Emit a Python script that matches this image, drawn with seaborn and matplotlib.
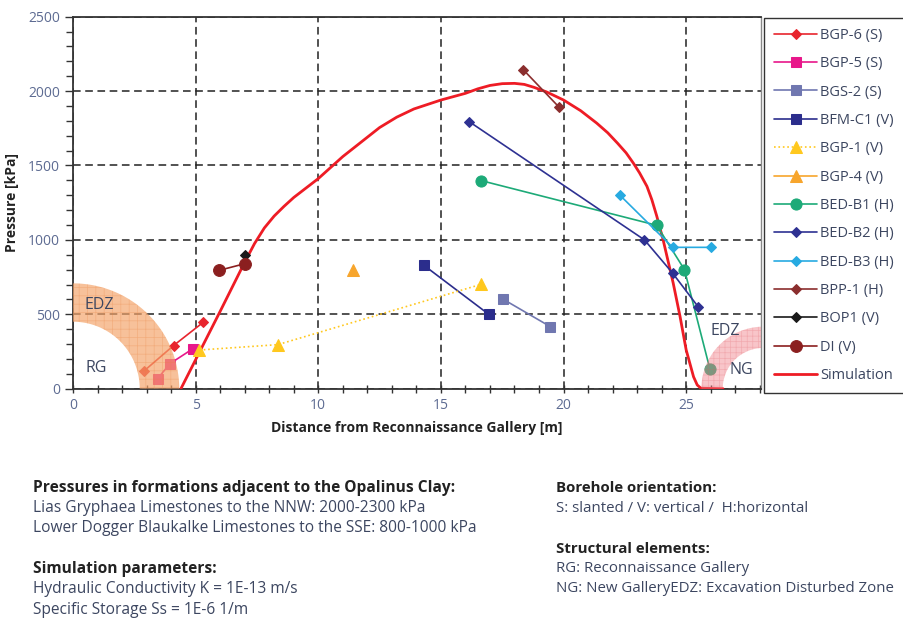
import numpy as np
import matplotlib
matplotlib.use("Agg")
import matplotlib.pyplot as plt
from matplotlib.patches import Polygon
import seaborn as sns

# Measured borehole pressures [distance m, pressure kPa]
bgp6_x, bgp6_y = [2.9, 4.1, 5.3], [120, 290, 445]
bgp5_x, bgp5_y = [3.45, 3.95, 4.9], [68, 168, 270]
bgs2_x, bgs2_y = [17.55, 19.45], [600, 418]
bfmc1_x, bfmc1_y = [14.3, 16.95], [830, 500]
bgp1_x, bgp1_y = [5.15, 8.35, 16.65], [260, 296, 702]
bgp4_x, bgp4_y = [11.4], [795]
bedb1_x, bedb1_y = [16.65, 23.8, 24.93, 25.97], [1398, 1098, 800, 130]
bedb2_x, bedb2_y = [16.15, 23.3, 24.45, 25.5], [1795, 1000, 776, 548]
bedb3_x, bedb3_y = [22.3, 24.45, 26.0], [1300, 950, 950]
bpp1_x, bpp1_y = [18.35, 19.8], [2145, 1895]
bop1_x, bop1_y = [7.0], [900]
di_x, di_y = [5.95, 7.0], [795, 840]

# Simulated pressure profile
sim_x = [4.4, 5.0, 6.0, 7.0, 7.4, 7.8, 8.2, 8.6, 9.0, 10.0, 11.0, 12.0,
         12.5, 13.2, 13.9, 15.0, 16.0, 16.5, 17.0, 17.5, 18.0, 18.4, 18.8,
         19.3, 20.0, 20.7, 21.35, 21.8, 22.2, 22.55, 22.85, 23.1, 23.4,
         23.6, 23.8, 24.06, 24.47, 24.75, 25.0, 25.3, 25.45, 25.6, 26.5]
sim_y = [0, 195, 520, 850, 975, 1080, 1160, 1225, 1285, 1412, 1560, 1690,
         1755, 1825, 1880, 1940, 1985, 2015, 2038, 2050, 2052, 2045, 2025,
         1995, 1940, 1868, 1785, 1720, 1650, 1585, 1515, 1450, 1360, 1270,
         1160, 1000, 710, 485, 260, 80, 25, 3, 0]

series = [
    ("BGP-6 (S)", bgp6_x, bgp6_y, "#e8252e", "D", 5.5, "-"),
    ("BGP-5 (S)", bgp5_x, bgp5_y, "#e8178a", "s", 7.5, "-"),
    ("BGS-2 (S)", bgs2_x, bgs2_y, "#7077b0", "s", 7.5, "-"),
    ("BFM-C1 (V)", bfmc1_x, bfmc1_y, "#2b2d8c", "s", 7.5, "-"),
    ("BGP-1 (V)", bgp1_x, bgp1_y, "#ffc81e", "^", 8, ":"),
    ("BGP-4 (V)", bgp4_x, bgp4_y, "#f7a52c", "^", 8, "-"),
    ("BED-B1 (H)", bedb1_x, bedb1_y, "#1daa78", "o", 8, "-"),
    ("BED-B2 (H)", bedb2_x, bedb2_y, "#2e3192", "D", 5.5, "-"),
    ("BED-B3 (H)", bedb3_x, bedb3_y, "#27aae1", "D", 5.5, "-"),
    ("BPP-1 (H)", bpp1_x, bpp1_y, "#8b2e2e", "D", 5.5, "-"),
    ("BOP1 (V)", bop1_x, bop1_y, "#1a1a1a", "D", 5.5, "-"),
    ("DI (V)", di_x, di_y, "#8b1f1f", "o", 8.5, "-"),
]

sns.set_theme(style="white")
plt.rcParams["font.family"] = ["Open Sans", "DejaVu Sans"]

fig = plt.figure(figsize=(9.04, 6.21), dpi=100)
ax = fig.add_axes([73 / 904, 1 - 388.7 / 621, 688 / 904, 372 / 621])

for name, xs, ys, col, mk, ms, ls in series:
    sns.lineplot(x=xs, y=ys, ax=ax, color=col, marker=mk, markersize=ms,
                 markeredgecolor=col, linewidth=1.2, linestyle=ls,
                 label=name, estimator=None, sort=False, zorder=4)

sns.lineplot(x=sim_x, y=sim_y, ax=ax, color="#ee1c25", linewidth=2.0,
             label="Simulation", estimator=None, sort=False, zorder=3)

# Excavation disturbed zones around the two galleries
def ring(cx, rx_in, rx_out, ry_in, ry_out, t0, t1):
    t = np.linspace(t0, t1, 120)
    outer = np.column_stack([cx + rx_out * np.cos(t), ry_out * np.sin(t)])
    inner = np.column_stack([cx + rx_in * np.cos(t[::-1]), ry_in * np.sin(t[::-1])])
    return np.vstack([outer, inner])

plt.rcParams["hatch.linewidth"] = 0.5
rg = ring(0.0, 2.72, 4.33, 450, 708, 0, np.pi / 2)
ax.add_patch(Polygon(rg, closed=True, facecolor="#f4a46a", edgecolor="none",
                     alpha=0.68, zorder=5))
ax.add_patch(Polygon(rg, closed=True, facecolor="none", edgecolor="#e8803c",
                     hatch="++", linewidth=0, alpha=0.3, zorder=5))
ng = ring(28.15, 1.66, 2.53, 274, 417, np.pi / 2, np.pi)
ax.add_patch(Polygon(ng, closed=True, facecolor="#f08088", edgecolor="none",
                     alpha=0.45, zorder=5))
ax.add_patch(Polygon(ng, closed=True, facecolor="none", edgecolor="#e05a64",
                     hatch="+++", linewidth=0, alpha=0.25, zorder=5))

zone_kw = dict(fontsize=11.5, color="#3c4660", ha="center", va="center", zorder=6)
ax.text(1.06, 563, "EDZ", **zone_kw)
ax.text(0.95, 141, "RG", **zone_kw)
ax.text(26.6, 390, "EDZ", **zone_kw)
ax.text(27.25, 128, "NG", **zone_kw)

ax.set_xlim(0, 28.05)
ax.set_ylim(0, 2500)
ax.set_xticks(range(0, 30, 5))
ax.set_xticks(range(0, 29), minor=True)
ax.set_yticks(range(0, 2501, 500))
ax.set_yticks(range(0, 2501, 100), minor=True)
ax.grid(True, which="major", color="#222222", linestyle=(0, (5, 3)), linewidth=1.1)
ax.tick_params(axis="x", which="both", direction="inout", length=6, width=1,
               colors="#333333", labelcolor="#5d6b92", labelsize=10, bottom=True)
ax.tick_params(axis="y", which="major", direction="out", length=6, width=1,
               colors="#333333", labelcolor="#5d6b92", labelsize=10, left=True)
ax.tick_params(axis="y", which="minor", direction="out", length=5, width=1,
               colors="#333333", left=True)
for s in ["left", "bottom", "top"]:
    ax.spines[s].set_color("#333333")
    ax.spines[s].set_linewidth(1.3)
ax.spines["right"].set_color("#888888")
ax.spines["right"].set_linewidth(1.0)

ax.set_xlabel("Distance from Reconnaissance Gallery [m]", fontsize=10,
              fontweight="bold", color="#222222", labelpad=6)
ax.set_ylabel("Pressure [kPa]", fontsize=10, fontweight="bold",
              color="#222222", labelpad=6)

leg = ax.legend(loc="upper left", bbox_to_anchor=(764 / 904, 1 - 17.7 / 621),
                bbox_transform=fig.transFigure, borderaxespad=0, frameon=True,
                fancybox=False, edgecolor="#333333", fontsize=10.5,
                handlelength=2.95, handletextpad=0.2, labelspacing=0.915,
                borderpad=0.7, framealpha=1)
leg.get_frame().set_linewidth(1.0)
for t in leg.get_texts():
    t.set_color("#3c4660")

head = dict(fontsize=11.2, fontweight="bold", color="#222222", va="center")
body = dict(fontsize=11.2, color="#3c4660", va="center")
head_r = dict(head, fontsize=10.8)
body_r = dict(body, fontsize=10.8)
fig.text(33 / 904, 1 - 488 / 621, "Pressures in formations adjacent to the Opalinus Clay:", **head)
fig.text(33 / 904, 1 - 508 / 621, "Lias Gryphaea Limestones to the NNW: 2000-2300 kPa", **body)
fig.text(33 / 904, 1 - 528 / 621, "Lower Dogger Blaukalke Limestones to the SSE: 800-1000 kPa", **body)
fig.text(33 / 904, 1 - 569 / 621, "Simulation parameters:", **head)
fig.text(33 / 904, 1 - 589 / 621, "Hydraulic Conductivity K = 1E-13 m/s", **body)
fig.text(33 / 904, 1 - 610 / 621, "Specific Storage Ss = 1E-6 1/m", **body)
fig.text(556 / 904, 1 - 488 / 621, "Borehole orientation:", **head_r)
fig.text(556 / 904, 1 - 508 / 621, "S: slanted / V: vertical /  H:horizontal", **body_r)
fig.text(556 / 904, 1 - 549 / 621, "Structural elements:", **head_r)
fig.text(556 / 904, 1 - 569 / 621, "RG: Reconnaissance Gallery", **body_r)
fig.text(556 / 904, 1 - 589 / 621, "NG: New GalleryEDZ: Excavation Disturbed Zone", **body_r)

fig.savefig("out.png", dpi=100)
